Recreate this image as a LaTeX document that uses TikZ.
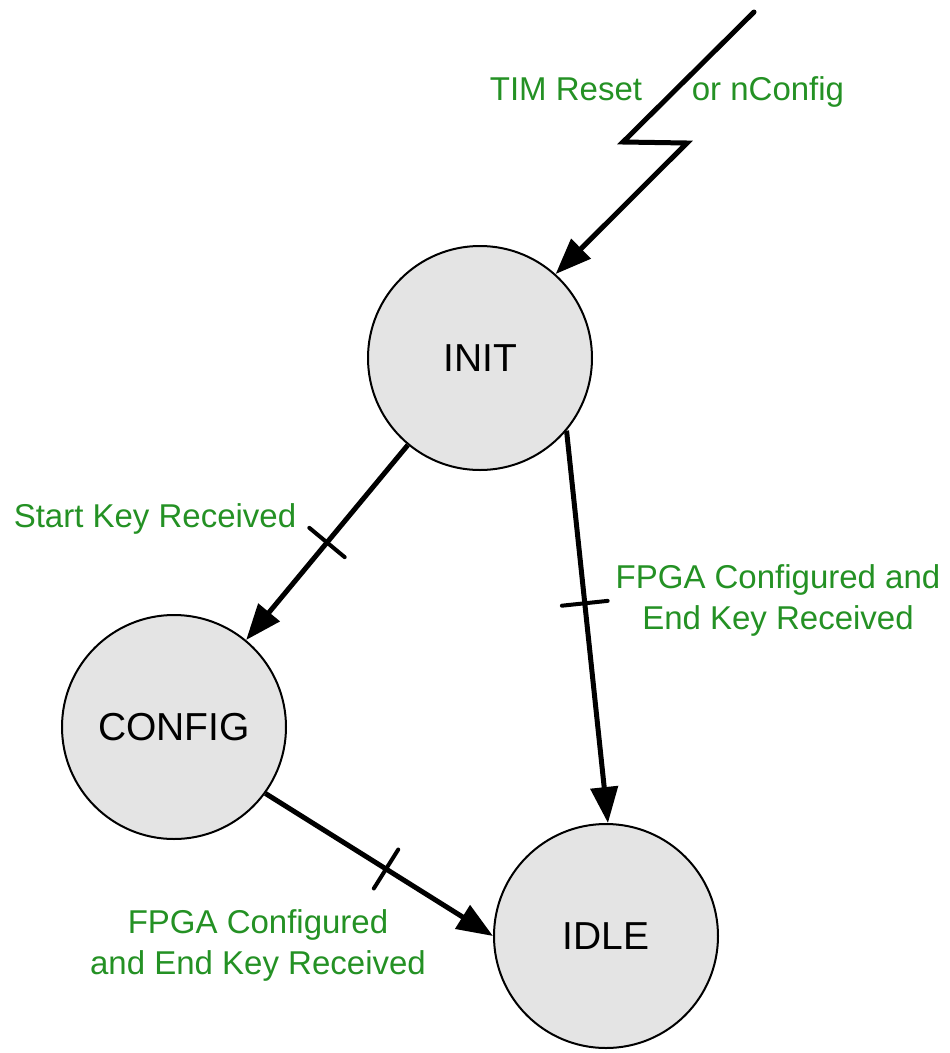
\documentclass[tikz,border=0pt]{standalone}
\usepackage{fontspec}
\setmainfont{Liberation Sans}
\usetikzlibrary{arrows.meta,decorations.markings}
\definecolor{lblgreen}{RGB}{36,145,36}
\definecolor{statefill}{RGB}{228,228,228}
\begin{document}
\begin{tikzpicture}[x=1pt,y=-1pt,
  state/.style={circle,draw,line width=2pt,fill=statefill,minimum size=224pt,inner sep=0pt,font=\fontsize{39}{47}\selectfont},
  trans/.style={line width=5pt,-{Triangle[length=36pt,width=27pt]}},
  ticked/.style={postaction={decorate},decoration={markings,mark=at position #1 with {\draw[arrows=-,line width=4pt,line cap=round] (0pt,-23pt) -- (0pt,23pt);}}},
  lbl/.style={text=lblgreen,font=\fontsize{33}{41}\selectfont,align=center,inner sep=0pt}]
\useasboundingbox (0,0) rectangle (950,1053);

\node[state] (init) at (480,358) {INIT};
\node[state] (config) at (174,727) {CONFIG};
\node[state] (idle) at (606,936) {IDLE};

\coordinate (z0) at (754,12);
\coordinate (z1) at (623,142);
\coordinate (z2) at (687,143);
\draw[trans,line cap=round] (z0) -- (z1) -- (z2) -- (init.48.6);

\draw[trans,ticked=0.5] (init) -- (config);
\draw[trans,ticked=0.44] (init.-40) -- (idle.89);
\draw[trans,ticked=0.53] (config.-36) -- (idle.180);

\node[lbl,anchor=base] (timreset) at (566,100) {TIM Reset};
\node[lbl,anchor=base] (nconfig) at (768,100) {or nConfig};
\node[lbl,anchor=base] (startkey) at (155,527) {Start Key Received};
\node[lbl] (fpgaA) at (778,600) {FPGA Configured and\\End Key Received};
\node[lbl] (fpgaB) at (258,945) {FPGA Configured\\and End Key Received};
\end{tikzpicture}
\end{document}
